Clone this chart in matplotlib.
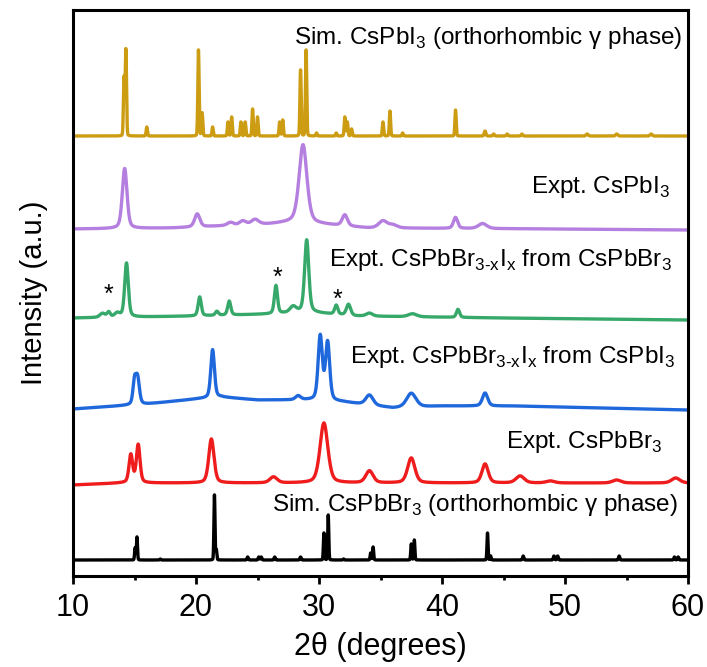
import numpy as np
import matplotlib
matplotlib.use("Agg")
import matplotlib.pyplot as plt

plt.rcParams['font.family'] = ['Liberation Sans', 'DejaVu Sans']
plt.rcParams['mathtext.fontset'] = 'custom'
plt.rcParams['mathtext.rm'] = 'Liberation Sans'

# peak tables: (2theta, height, fwhm); heights in offset units
sim_cspbi3_peaks = [(14.15, 58, 0.12), (14.3, 86, 0.12), (16.0, 9, 0.12),
                    (20.2, 86, 0.12), (20.5, 23, 0.12), (21.35, 9, 0.12),
                    (22.6, 14, 0.12), (22.9, 19, 0.12), (23.65, 14, 0.12),
                    (24.0, 14, 0.12), (24.6, 27, 0.12), (25.0, 19, 0.12),
                    (26.8, 14, 0.12), (27.05, 16, 0.12), (28.5, 66, 0.12),
                    (28.95, 86, 0.12), (29.8, 3, 0.12), (31.4, 3, 0.12),
                    (32.1, 19, 0.12), (32.3, 14, 0.12), (32.65, 7, 0.12),
                    (35.2, 14, 0.12), (35.77, 25, 0.12), (36.8, 3, 0.12),
                    (41.1, 26, 0.12), (43.5, 5, 0.15), (44.2, 2, 0.15),
                    (45.3, 2, 0.15), (46.5, 2, 0.15), (51.8, 2, 0.2),
                    (54.2, 2, 0.2), (57.0, 2, 0.2)]
sim_cspbi3_base = [(10, 440), (60, 440)]

expt_cspbi3_peaks = [(14.2, 60, 0.45), (20.1, 13, 0.5), (22.8, 3, 0.6),
                     (23.8, 4, 0.6), (24.8, 5, 0.7), (28.7, 78, 0.75),
                     (32.1, 11, 0.5), (35.2, 7, 0.8), (36.0, 3, 0.8),
                     (41.1, 11, 0.4), (43.3, 5, 0.8)]
expt_cspbi3_base = [(10, 347), (18, 348), (26, 352), (28, 354), (34, 348),
                    (50, 347), (60, 346)]

expt_from_br_peaks = [(12.4, 4, 0.5), (12.9, 5, 0.3), (13.6, 4, 0.5),
                      (14.35, 54, 0.35), (20.3, 19, 0.3), (21.7, 4, 0.3),
                      (22.7, 14, 0.3), (26.5, 28, 0.3), (27.9, 6, 0.6),
                      (29.0, 72, 0.4), (31.4, 9, 0.3), (32.4, 11, 0.4),
                      (34.1, 3, 0.6), (37.6, 3, 0.8), (41.3, 8, 0.3)]
expt_from_br_base = [(10, 258), (20, 260), (26, 262), (29, 264), (33, 260),
                     (45, 258), (60, 256)]

expt_from_i_peaks = [(15.0, 22, 0.3), (15.25, 26, 0.35), (21.35, 48, 0.35),
                     (28.3, 4, 0.5), (30.1, 64, 0.4), (30.7, 58, 0.4),
                     (34.1, 10, 0.7), (37.5, 14, 0.9), (43.5, 13, 0.5)]
expt_from_i_base = [(10, 167), (16, 172), (20, 177), (22, 179), (25, 176),
                    (29, 176), (32, 174), (36, 168), (40, 170), (46, 170),
                    (60, 166)]

expt_cspbbr3_peaks = [(14.7, 28, 0.35), (15.3, 38, 0.35), (21.25, 44, 0.5),
                      (26.3, 6, 0.7), (30.4, 60, 0.75), (34.1, 12, 0.7),
                      (37.5, 25, 0.7), (43.5, 19, 0.6), (46.35, 7, 0.8),
                      (48.8, 2, 0.8), (54.2, 3, 0.8), (59.0, 5, 0.8)]
expt_cspbbr3_base = [(10, 91), (14, 93), (60, 93)]

sim_cspbbr3_peaks = [(15.05, 12, 0.1), (15.2, 23, 0.1), (17.1, 1, 0.1),
                     (21.5, 65, 0.1), (21.65, 10, 0.1), (24.2, 3, 0.12),
                     (25.1, 3, 0.12), (25.3, 3, 0.12), (26.4, 3, 0.12),
                     (28.5, 3, 0.12), (30.4, 27, 0.1), (30.75, 45, 0.1),
                     (32.0, 1, 0.1), (34.2, 7, 0.1), (34.4, 13, 0.1),
                     (37.5, 16, 0.1), (37.75, 20, 0.1), (43.7, 27, 0.1),
                     (43.95, 4, 0.1), (46.6, 4, 0.12), (49.1, 4, 0.12),
                     (49.4, 4, 0.12), (54.4, 4, 0.12), (58.9, 3, 0.12),
                     (59.2, 3, 0.12)]
sim_cspbbr3_base = [(10, 16), (60, 16)]

sub3 = "$_\\mathregular{3}$"
sub3x = "$_{\\mathregular{3}\\text{-}\\mathregular{x}}$"
subx = "$_\\mathregular{x}$"
labels = ["Sim. CsPbI" + sub3 + " (orthorhombic \u03b3 phase)",
          "Expt. CsPbI" + sub3,
          "Expt. CsPbBr" + sub3x + "I" + subx + " from CsPbBr" + sub3,
          "Expt. CsPbBr" + sub3x + "I" + subx + " from CsPbI" + sub3,
          "Expt. CsPbBr" + sub3,
          "Sim. CsPbBr" + sub3 + " (orthorhombic \u03b3 phase)"]
label_pos = [(682, 538), (670, 389), (672, 316), (675, 219), (663, 134), (678, 71)]
colors = ["#cc9c12", "#b57fdf", "#36a86a", "#1f68dc", "#ee1c1c", "#000000"]
lorentz_frac = [0.1, 0.4, 0.4, 0.4, 0.4, 0.1]

star_pos = [(12.9, 281), (26.6, 298), (31.5, 276)]

x = np.linspace(10, 60, 6001)


def pattern(peaks, base, eta):
    bx, by = zip(*base)
    y = np.interp(x, bx, by)
    for c, h, w in peaks:
        g = np.exp(-4 * np.log(2) * ((x - c) / w) ** 2)
        lor = 1 / (1 + 4 * ((x - c) / w) ** 2)
        y = y + h * ((1 - eta) * g + eta * lor)
    return y


traces = [(sim_cspbi3_peaks, sim_cspbi3_base),
          (expt_cspbi3_peaks, expt_cspbi3_base),
          (expt_from_br_peaks, expt_from_br_base),
          (expt_from_i_peaks, expt_from_i_base),
          (expt_cspbbr3_peaks, expt_cspbbr3_base),
          (sim_cspbbr3_peaks, sim_cspbbr3_base)]

fig = plt.figure(figsize=(7.07, 6.67), dpi=100)
ax = fig.add_axes([73 / 707, 1 - 576 / 667, 615 / 707, 566 / 667])

for (pk, bs), col, eta in zip(traces, colors, lorentz_frac):
    ax.plot(x, pattern(pk, bs, eta), color=col, lw=2.4)

for txt, (px, py) in zip(labels, label_pos):
    ax.text(10 + (px - 73) / 12.3, py, txt, ha='right', va='center', fontsize=17.5)

for sx, sy in star_pos:
    ax.text(sx, sy, "*", ha='center', va='center', fontsize=18)

ax.set_xlim(10, 60)
ax.set_ylim(0, 566)
ax.set_yticks([])
ax.set_xticks([10, 20, 30, 40, 50, 60])
ax.set_xticks([15, 25, 35, 45, 55], minor=True)
ax.tick_params(axis='x', which='major', direction='out', length=6, width=2,
               labelsize=22, pad=6)
ax.tick_params(axis='x', which='minor', direction='out', length=3, width=2)
for s in ax.spines.values():
    s.set_linewidth(2.2)
ax.set_xlabel("2\u03b8 (degrees)", fontsize=22, labelpad=7)
ax.set_ylabel("Intensity (a.u.)", fontsize=21, labelpad=18)

fig.savefig("out.png", dpi=100)
